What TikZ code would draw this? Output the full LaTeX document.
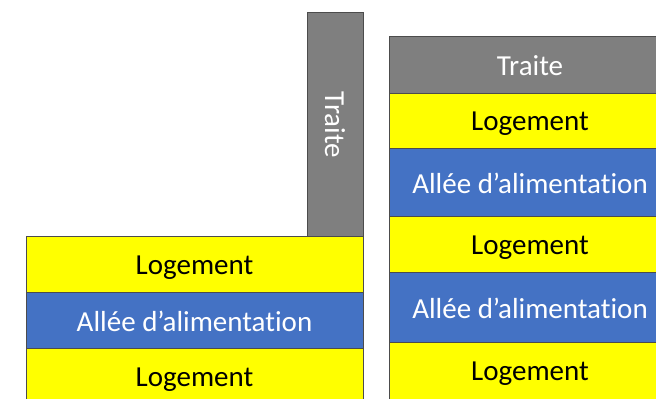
\documentclass[tikz,border=0pt]{standalone}
\usepackage{fontspec}
\setmainfont[RawFeature=-liga]{Carlito}
\begin{document}
\begin{tikzpicture}[x=0.5pt,y=-0.5pt,
  band/.style={draw=black!70, line width=0.5pt, rectangle, inner sep=0pt, outer sep=0pt,
    font=\fontsize{14.5}{17}\selectfont},
  logement/.style={band, fill={rgb,255:red,255;green,255;blue,0}, text=black, text depth=0pt},
  allee/.style={band, fill={rgb,255:red,68;green,114;blue,196}, text=white},
  traite/.style={band, fill={rgb,255:red,127;green,127;blue,127}, text=white}]
\useasboundingbox (0,0) rectangle (656,399);
\clip (0,0) rectangle (656,399);
% left building: vertical feeding passage above three bands
\node[traite, minimum width=28pt, minimum height=112pt] (t1) at (335,125) {};
\node[rotate=-90, text=white, font=\fontsize{14.5}{17}\selectfont] (t1lbl) at (t1.center) {Traite};
\node[logement, minimum width=168.5pt, minimum height=28pt] (l1) at (194.5,265) {Logement};
\node[allee, minimum width=168.5pt, minimum height=28pt] (a1) at (194.5,321) {All\'ee d’alimentation};
\node[logement, minimum width=168.5pt, minimum height=28pt] (l2) at (194.5,377) {Logement};
% right building: horizontal bands
\node[traite, minimum width=141pt, minimum height=28.5pt] (t2) at (530,65.5) {Traite};
\node[logement, minimum width=141pt, minimum height=27.5pt] (l3) at (530,121.5) {Logement};
\node[allee, minimum width=141pt, minimum height=34pt] (a2) at (530,183) {All\'ee d’alimentation};
\node[logement, minimum width=141pt, minimum height=28pt] (l4) at (530,245) {Logement};
\node[allee, minimum width=141pt, minimum height=35pt] (a3) at (530,308) {All\'ee d’alimentation};
\node[logement, minimum width=141pt, minimum height=28pt] (l5) at (530,371) {Logement};
\end{tikzpicture}
\end{document}
